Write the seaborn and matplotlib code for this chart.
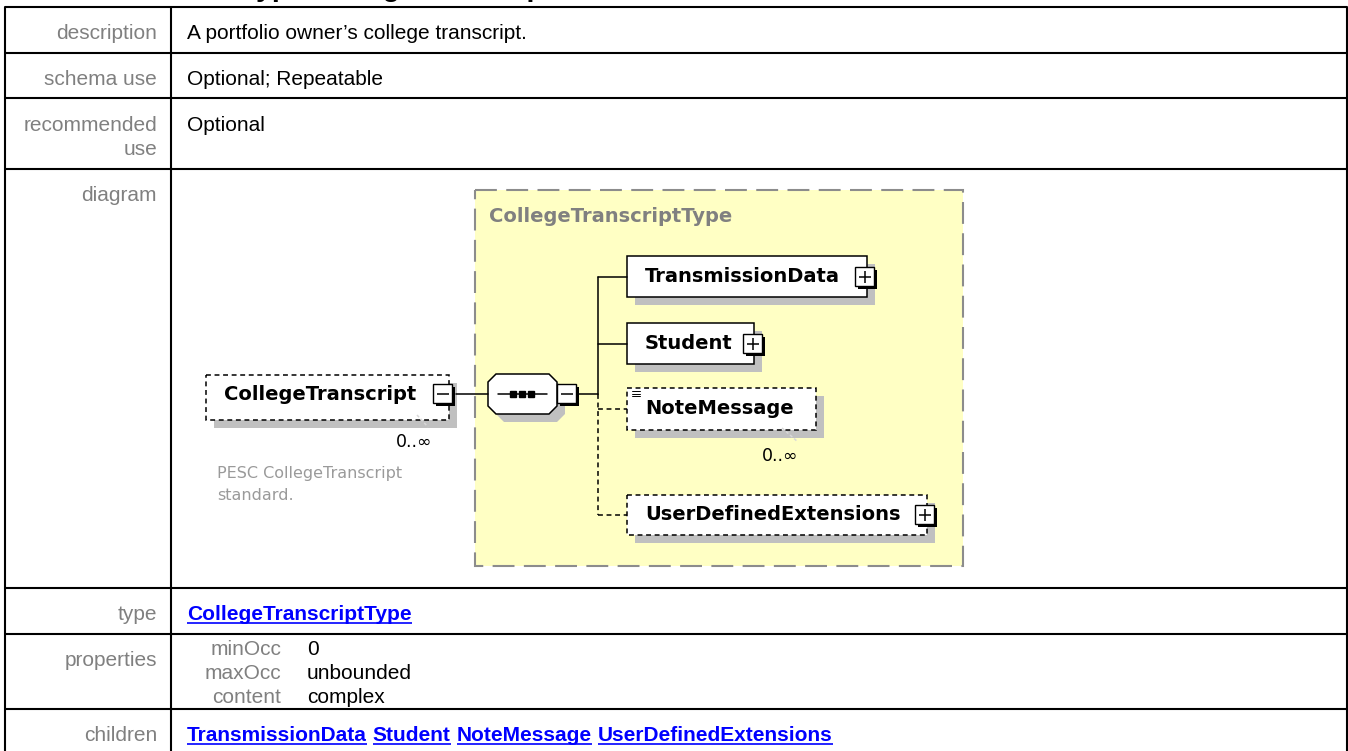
import matplotlib
matplotlib.use("Agg")
import matplotlib.pyplot as plt
import seaborn as sns
from matplotlib.patches import Rectangle, Polygon

sns.set_theme(style="white")
plt.rcParams['font.family'] = ['Liberation Sans', 'DejaVu Sans']

# ---------------- data ----------------
title_text = "element PortfolioType/CollegeTranscript"
row_labels = ["description", "schema use", "recommended\nuse", "diagram", "type", "properties", "children"]
description_text = "A portfolio owner\u2019s college transcript."
schema_use_text = "Optional; Repeatable"
recommended_use_text = "Optional"
type_link = "CollegeTranscriptType"
prop_names = ["minOcc", "maxOcc", "content"]
prop_values = ["0", "unbounded", "complex"]
children_links = ["TransmissionData", "Student", "NoteMessage", "UserDefinedExtensions"]

element_name = "CollegeTranscript"
element_occurs = "0..\u221e"
element_annotation = ["PESC CollegeTranscript", "standard."]
complex_type_name = "CollegeTranscriptType"
child_elements = ["TransmissionData", "Student", "NoteMessage", "UserDefinedExtensions"]
child_optional = [False, False, True, True]
child_expandable = [True, True, False, True]
child_occurs = ["", "", "0..\u221e", ""]

# ---------------- layout (pixels) ----------------
W, H = 1348, 751
fig = plt.figure(figsize=(W / 100, H / 100), dpi=100)
fig.patch.set_facecolor("white")
ax = fig.add_axes([0, 0, 1, 1])
ax.set_xlim(0, W)
ax.set_ylim(H, 0)
ax.axis("off")

LBL = "#808080"
TFS = 15
renderer = fig.canvas.get_renderer()
inv = ax.transData.inverted()

# title (cut off at top, only descenders visible as in the reference)
ax.text(8, -3.5, title_text, fontsize=20.5, fontweight="bold", color="black",
        ha="left", va="baseline", family=["Liberation Sans"])

# table grid
row_lines = [7, 53, 98, 169, 588, 634, 709]
L, R, DIV = 5, 1347, 171
for y in row_lines:
    ax.plot([L, R], [y, y], color="black", lw=1.5, solid_capstyle="butt")
ax.plot([L, L], [7, H + 2], color="black", lw=1.5)
ax.plot([R, R], [7, H + 2], color="black", lw=1.5)
ax.plot([DIV, DIV], [7, H + 2], color="black", lw=1.5)

# row labels (baselines)
label_baselines = [[39], [85], [131, 155], [201], [620], [666], [741]]
for lab, bls in zip(row_labels, label_baselines):
    for part, b in zip(lab.split("\n"), bls):
        ax.text(157, b, part, fontsize=TFS, color=LBL, ha="right", va="baseline")

CX = 187
ax.text(CX, 39, description_text, fontsize=TFS, color="black", ha="left", va="baseline")
ax.text(CX, 85, schema_use_text, fontsize=TFS, color="black", ha="left", va="baseline")
ax.text(CX, 131, recommended_use_text, fontsize=TFS, color="black", ha="left", va="baseline")


def link(x, y, s):
    t = ax.text(x, y, s, fontsize=TFS, fontweight="bold", color="#0000FF",
                ha="left", va="baseline")
    bb = t.get_window_extent(renderer=renderer)
    (x0, _), (x1, _) = inv.transform([[bb.x0, bb.y0], [bb.x1, bb.y1]])
    ax.plot([x0, x1], [y + 2.5, y + 2.5], color="#0000FF", lw=1.2, solid_capstyle="butt")
    return x1


link(CX, 620, type_link)

for name, val, b in zip(prop_names, prop_values, [655, 679, 703]):
    ax.text(281, b, name, fontsize=TFS, color=LBL, ha="right", va="baseline")
    ax.text(307, b, val, fontsize=TFS, color="black", ha="left", va="baseline")

x = CX
for c in children_links:
    x = link(x, 741, c) + 6

# ---------------- diagram ----------------
DFONT = ["DejaVu Sans"]
SHADOW = "#C0C0C0"
YELLOW = "#FFFFC4"

# complex type container
ax.add_patch(Rectangle((475, 190), 963 - 475, 566 - 190, facecolor=YELLOW,
                       edgecolor="#8c8c8c", lw=1.5, ls=(0, (10.5, 4.5)), zorder=1))
ax.text(489, 217, complex_type_name, fontsize=14, fontweight="bold", color="#808080",
        ha="left", va="center", family=DFONT, zorder=5)


def pm_box(x, y, sign, z=6):
    ax.add_patch(Rectangle((x + 2.5, y + 2.5), 19, 19, facecolor="black", edgecolor="none", zorder=z))
    ax.add_patch(Rectangle((x, y), 19, 19, facecolor="white", edgecolor="black", lw=1.0, zorder=z + 0.1))
    cx, cy = x + 9.5, y + 9.5
    ax.plot([cx - 6, cx + 6], [cy, cy], color="black", lw=1.1, zorder=z + 0.2, solid_capstyle="butt")
    if sign == "+":
        ax.plot([cx, cx], [cy - 6, cy + 6], color="black", lw=1.1, zorder=z + 0.2, solid_capstyle="butt")


def elem_box(x0, y0, x1, y1, optional):
    ax.add_patch(Rectangle((x0 + 8, y0 + 8), x1 - x0, y1 - y0, facecolor=SHADOW,
                           edgecolor="none", zorder=2))
    ls = (0, (3.2, 2.4)) if optional else "solid"
    ax.add_patch(Rectangle((x0, y0), x1 - x0, y1 - y0, facecolor="white",
                           edgecolor="black", lw=1.1, ls=ls, zorder=3))


# root element
elem_box(206, 375, 449, 420, True)
ax.text(224, 395, element_name, fontsize=14, fontweight="bold", color="black",
        ha="left", va="center", family=DFONT, zorder=5)
pm_box(433, 384, "-")
ax.plot([417, 428], [415, 427], color="#d8d8d8", lw=1.1, ls=(0, (2, 1.5)), zorder=4)
ax.text(432, 442, element_occurs, fontsize=12.5, color="black", ha="right", va="center",
        family=DFONT, zorder=5)
ax.text(217, 478, element_annotation[0], fontsize=11.5, color="#9a9a9a", ha="left",
        va="baseline", family=DFONT, zorder=5)
ax.text(217, 500, element_annotation[1], fontsize=11.5, color="#9a9a9a", ha="left",
        va="baseline", family=DFONT, zorder=5)

# connector root -> sequence
ax.plot([456, 488], [394, 394], color="black", lw=1.1, zorder=4)

# sequence compositor
oct_pts = [(496, 374), (549, 374), (557, 382), (557, 406), (549, 414), (496, 414), (488, 406), (488, 382)]
ax.add_patch(Polygon([(px + 8, py + 8) for px, py in oct_pts], closed=True,
                     facecolor=SHADOW, edgecolor="none", zorder=2))
ax.add_patch(Polygon(oct_pts, closed=True, facecolor="white", edgecolor="black", lw=1.1, zorder=3))
ax.plot([498, 547], [394, 394], color="black", lw=1.1, zorder=4)
ax.plot([513, 522, 531], [394, 394, 394], ls="none", marker="s", markersize=4.2,
        color="black", zorder=4)
pm_box(557, 384, "-")
ax.plot([579, 598], [394, 394], color="black", lw=1.1, zorder=4)

# children
child_boxes = [(627, 256, 867, 297), (627, 323, 754, 364), (627, 388, 816, 430), (627, 495, 927, 535)]
pm_pos = [(855, 267), (743, 334), None, (915, 505)]
for name, opt, exp, occ, bx, pm in zip(child_elements, child_optional, child_expandable,
                                       child_occurs, child_boxes, pm_pos):
    x0, y0, x1, y1 = bx
    cy = (y0 + y1) / 2
    elem_box(x0, y0, x1, y1, opt)
    ax.text(645, cy, name, fontsize=14, fontweight="bold", color="black",
            ha="left", va="center", family=DFONT, zorder=5)
    if exp and pm is not None:
        pm_box(pm[0], pm[1], "+")
    ls = (0, (3.2, 2.4)) if opt else "solid"
    ax.plot([598, 627], [cy, cy], color="black", lw=1.1, ls=ls, zorder=4)
    if occ:
        ax.text(798, 456, occ, fontsize=12.5, color="black", ha="right", va="center",
                family=DFONT, zorder=5)
        ax.plot([782, 798], [428, 442], color="#d8d8d8", lw=1.1, ls=(0, (2, 1.5)), zorder=4)
        # documentation icon
        for dy in (391, 393.5, 396):
            ax.plot([632, 640], [dy, dy], color="black", lw=0.7, zorder=5)

ys = [(b[1] + b[3]) / 2 for b in child_boxes]
ax.plot([598, 598], [ys[0], 394], color="black", lw=1.1, zorder=4)
ax.plot([598, 598], [394, ys[3]], color="black", lw=1.1, ls=(0, (3.2, 2.4)), zorder=4)

fig.savefig("out.png", dpi=100, facecolor="white")
